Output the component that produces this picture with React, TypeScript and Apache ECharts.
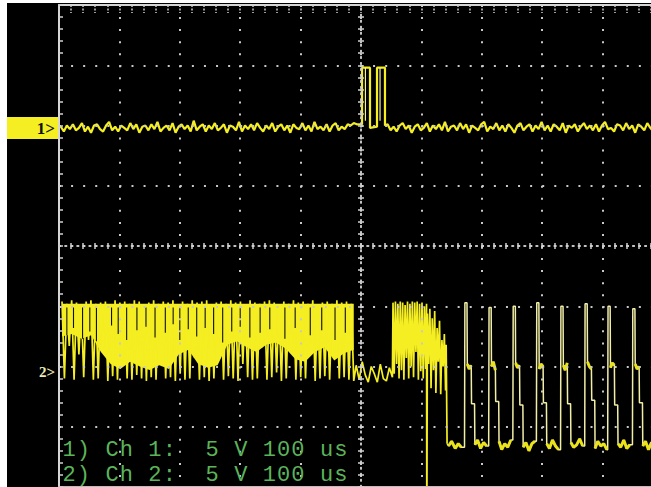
import React, { useEffect, useRef } from "react";
import * as echarts from "echarts";

// ---- scope settings: 100 us/div, 5 V/div ----
const TIME_MIN = -500;
const TIME_MAX = 500;
const TIME_PER_DIV = 100;
const VOLT_MIN = -20;
const VOLT_MAX = 20;
const VOLT_PER_DIV = 5;

const CH1_OFFSET = 9.8; // ground position of channel 1 (V on screen)
const CH2_OFFSET = -10.8; // ground position of channel 2

const legendLines = ["1) Ch 1:  5 V 100 us", "2) Ch 2:  5 V 100 us"];

// ---- channel 1 (volts relative to its ground) ----
const ch1NoiseAStart = -497;
const ch1NoiseBStart = 44;
const ch1SampleStep = 5;
const ch1NoiseA = [
  0.1, -0.3, 0.2, -0.1, 0.3, -0.2, 0.0, 0.4, -0.3, 0.1,
  -0.4, 0.2, 0.3, -0.1, -0.3, 0.2, 0.5, -0.2, 0.1, -0.3,
  0.2, 0.0, -0.2, 0.4, -0.1, 0.3, -0.4, 0.1, 0.2, -0.2,
  0.3, -0.1, 0.5, -0.3, 0.0, 0.2, -0.2, 0.4, -0.4, 0.1,
  0.3, -0.1, 0.2, -0.3, 0.6, -0.2, 0.1, 0.3, -0.3, 0.2,
  -0.1, 0.4, -0.2, 0.0, 0.3, -0.4, 0.2, 0.1, -0.2, 0.5,
  -0.3, 0.2, -0.1, 0.3, -0.2, 0.4, 0.0, -0.3, 0.2, -0.1,
  0.4, -0.3, 0.1, 0.3, -0.2, 0.2, -0.4, 0.3, 0.0, -0.1,
  0.4, -0.2, 0.2, -0.3, 0.5, -0.1, 0.1, -0.2, 0.3, -0.3,
  0.2, 0.4, -0.2, 0.1, -0.1, 0.3, 0.2, 0.4, 0.3,
];
const ch1Pulse: [number, number][] = [
  [-6, 0.3], [1.7, 0.3], [1.7, 5.0], [14.9, 5.0], [14.9, 0.0],
  [26.5, 0.1], [26.5, 5.0], [39.7, 5.0], [39.7, 0.2],
];
const ch1PulseGhost: [number, number | string][] = [
  [7.3, 0.6], [7.3, 5.0], [20, "-"], [31.5, 5.0], [31.5, 0.6],
];
const ch1NoiseB = [
  0.3, -0.2, 0.1, -0.3, 0.2, 0.4, -0.1, 0.2, -0.4, 0.1,
  0.3, -0.2, 0.0, 0.4, -0.3, 0.2, -0.1, 0.3, -0.2, 0.5,
  -0.3, 0.1, 0.2, -0.2, 0.4, -0.1, 0.3, -0.4, 0.2, 0.0,
  -0.2, 0.3, 0.5, -0.3, 0.1, -0.1, 0.4, -0.2, 0.2, -0.3,
  0.3, 0.0, -0.4, 0.2, 0.4, -0.2, 0.1, 0.3, -0.3, 0.2,
  -0.1, 0.5, -0.2, 0.2, -0.3, 0.3, 0.1, -0.2, 0.4, -0.4,
  0.2, 0.0, 0.3, -0.3, 0.1, 0.4, -0.1, 0.2, -0.2, 0.3,
  -0.3, 0.2, 0.5, -0.1, 0.0, -0.3, 0.3, 0.2, -0.2, 0.4,
  -0.1, 0.2, -0.4, 0.3, 0.1, -0.2, 0.4, 0.0, -0.3, 0.2,
  0.3, -0.2,
];

// ---- channel 2 (volts relative to its ground) ----
const burstAStart = -495;
const burstAEnd = -12;
const burstATop = [
  6.2, 6.0, 6.3, 6.1, 5.9, 6.2, 6.3, 6.0, 6.1, 6.2,
  5.8, 6.3, 6.1, 6.2, 6.0, 6.3, 6.2, 5.9, 6.1, 6.3,
  6.0, 6.2, 6.1, 6.3, 5.9, 6.2, 6.0, 6.3, 6.1, 6.2,
  6.3, 5.8, 6.1, 6.2, 6.0, 6.3, 6.1, 6.2, 5.9, 6.3,
  6.1, 6.0, 6.2, 6.3, 6.1, 5.9, 6.2, 6.0, 6.3, 6.1,
  6.2, 6.0, 6.3, 5.9, 6.1, 6.2, 6.0, 6.3, 6.1, 6.2,
  6.0,
];
const burstABottom = [
  -0.2, 2.5, -0.3, 1.8, -0.1, 3.0, -0.3, -0.2, 2.2, -0.4,
  0.0, -0.3, 1.2, -0.2, -0.3, 0.1, -0.2, -0.4, -0.1, -0.3,
  2.6, -0.2, -0.1, -0.4, 0.2, -0.3, -0.2, 1.5, -0.3, -0.1,
  -0.4, -0.2, 2.8, -0.3, 0.0, -0.2, -0.4, 1.0, -0.1, -0.3,
  -0.2, 2.4, -0.3, -0.1, 0.3, -0.4, -0.2, 1.9, -0.3, -0.1,
  -0.2, 2.7, -0.4, -0.2, 0.0, -0.3, 1.4, -0.2, -0.1, -0.3,
  -0.4,
];
// dense (persistence) part of the burst: top level and lower edge
const burstBandTop = 6.0;
const burstBandLower = [
  3.3, 3.5, 3.1, 3.4, 2.0, 1.0, 0.6, 1.2, 0.8, 0.5,
  0.9, 0.6, 1.8, 2.2, 1.0, 0.7, 0.9, 2.6, 2.9, 2.4,
  2.0, 2.6, 2.8, 2.3, 1.4, 1.2, 2.0, 2.4, 1.3, 1.9,
  2.2,
];
// short dark gaps in the dense part (time, lowest level of the gap)
const burstGapTimes = [
  -487, -476, -461, -449, -438, -413, -402, -388, -371, -356, -341, -324,
  -311, -300, -286, -272, -258, -244, -229, -214, -200, -184, -167, -151,
  -126, -109, -84, -65, -43, -26,
];
const burstGapLower = [
  3.4, 4.0, 3.1, 3.7, 2.9, 4.2, 3.5, 3.0, 3.8, 4.1, 3.2, 3.6,
  4.3, 3.0, 3.9, 3.3, 4.0, 3.5, 2.8, 3.7, 4.1, 3.2, 3.6, 3.9,
  3.1, 4.0, 3.4, 3.8, 3.0, 3.6,
];
const burstBStart = -8;
const burstBLow = [0.9, -0.3, 1.2, 0.1, -0.5, 0.8, 0.2, -0.5, 1.0, -0.2, -0.4, 0.7, -0.1];
const burstC: [number, number][] = [
  [53, 6.1], [55, 0.2], [57, 6.2], [59, 1.0], [61, 6.0], [63, -0.2], [65, 6.2], [67, 0.5],
  [69, 6.1], [71, -0.3], [73, 5.9], [75, 1.5], [77, 6.2], [79, -0.2], [81, 6.0], [83, 0.8],
  [85, 6.2], [87, -0.1], [89, 6.1], [91, 2.0], [93, 6.2], [95, -0.3], [97, 6.0], [99, 0.4],
  [101, 6.1], [103, -0.2], [105, 5.8], [107, 0.6], [108.5, 6.0], [109, -13], [110, 5.2],
  [112, 1.0], [114, 5.6], [116, -1.0], [118, 4.8], [120, 0.5], [122, 5.4], [124, -1.4],
  [126, 4.0], [128, 1.2], [130, 4.6], [132, -1.5], [134, 3.0], [136, 0.8], [138, 3.5],
  [140, -1.2], [141, 2.6], [142.5, -5.6],
];
const preLow: [number, number][] = [[145, -5.8], [150, -5.4], [156, -6.0], [161, -5.6], [166, -5.9]];
const spikeTimes = [172, 212, 252, 291, 331, 371, 409, 450, 490];
const spikeTop = [6.1, 5.7, 5.8, 6.1, 5.8, 6.0, 5.8, 5.6, 6.0];
const plateau = [
  [1.0, 0.6, 0.9], [0.8, 1.2, 0.5], [1.1, 0.7, 0.9], [0.6, 1.0, 0.8], [0.9, 0.5, 1.1],
  [1.2, 0.8, 0.6], [0.7, 1.1, 0.9], [1.0, 0.6, 0.8], [0.9, 1.0, 0.7],
];
const stepLevel = [-2.3, -2.1, -2.4, -2.2, -2.3, -2.0, -2.4, -2.2, -2.3];
const lowNoise = [
  [-5.7, -5.3, -6.0, -5.5, -5.8], [-5.4, -6.1, -5.6, -5.9, -5.3], [-5.9, -5.5, -6.2, -5.6, -5.4],
  [-5.6, -6.0, -5.3, -5.8, -6.1], [-5.5, -5.9, -5.7, -5.2, -5.8], [-6.0, -5.4, -5.8, -5.6, -6.1],
  [-5.6, -5.9, -5.3, -6.0, -5.7], [-5.8, -5.4, -6.1, -5.5, -5.9], [-5.5, -5.8, -5.6, -6.0, -5.4],
];
// time offsets (us) of each part of one period, relative to the spike
const riseOffset = -0.6;
const topEndOffset = 3.5;
const plateauOffsets = [4, 7, 10.5];
const stepOffsets = [11, 16];
const lowOffsets = [16.5, 21, 26, 31, 36];

const YELLOW = "#f4ee22";
const CREAM = "#f1eea6";
const GRID = "#c8c8c8";
const GREEN = "#5bb45a";

function buildData() {
  const ch1: [number, number][] = [];
  ch1NoiseA.forEach((v, i) => ch1.push([ch1NoiseAStart + i * ch1SampleStep, CH1_OFFSET + v]));
  ch1Pulse.forEach(([t, v]) => ch1.push([t, CH1_OFFSET + v]));
  ch1NoiseB.forEach((v, i) => ch1.push([ch1NoiseBStart + i * ch1SampleStep, CH1_OFFSET + v]));
  const ghost = ch1PulseGhost.map(([t, v]) => [t, typeof v === "number" ? CH1_OFFSET + v : v]);

  const burst: [number, number][] = [];
  const nA = burstATop.length * 2;
  const stepA = (burstAEnd - burstAStart) / (nA - 1);
  burstATop.forEach((top, i) => {
    burst.push([burstAStart + 2 * i * stepA, CH2_OFFSET + top]);
    burst.push([burstAStart + (2 * i + 1) * stepA, CH2_OFFSET + burstABottom[i]]);
  });
  burstBLow.forEach((v, i) => burst.push([burstBStart + i * 5, CH2_OFFSET + v]));
  burstC.forEach(([t, v]) => burst.push([t, CH2_OFFSET + v]));

  const bandStep = (burstAEnd - burstAStart) / (burstBandLower.length - 1);
  const band: [number, number][] = [
    [burstAStart, CH2_OFFSET + burstBandTop],
    [burstAEnd, CH2_OFFSET + burstBandTop],
  ];
  for (let k = burstBandLower.length - 1; k >= 0; k--) {
    band.push([burstAStart + k * bandStep, CH2_OFFSET + burstBandLower[k]]);
  }

  const gaps: any[] = [];
  burstGapTimes.forEach((t, i) => {
    gaps.push([t, CH2_OFFSET + 5.7]);
    gaps.push([t, CH2_OFFSET + burstGapLower[i]]);
    gaps.push([t + 0.5, "-"]);
  });

  const periodic: [number, number][] = [[142.5, CH2_OFFSET - 5.6]];
  const blobs: any[] = [];
  preLow.forEach(([t, v]) => {
    periodic.push([t, CH2_OFFSET + v]);
    blobs.push([t, CH2_OFFSET + v]);
  });
  blobs.push([spikeTimes[0] - 2, "-"]);
  let prev = preLow[preLow.length - 1][1];
  spikeTimes.forEach((s, c) => {
    periodic.push([s + riseOffset, CH2_OFFSET + prev]);
    periodic.push([s, CH2_OFFSET + spikeTop[c]]);
    periodic.push([s + topEndOffset, CH2_OFFSET + spikeTop[c]]);
    plateau[c].forEach((v, k) => {
      periodic.push([s + plateauOffsets[k], CH2_OFFSET + v]);
      blobs.push([s + plateauOffsets[k], CH2_OFFSET + v]);
    });
    blobs.push([s + stepOffsets[0] - 0.2, "-"]);
    periodic.push([s + stepOffsets[0], CH2_OFFSET + stepLevel[c]]);
    periodic.push([s + stepOffsets[1], CH2_OFFSET + stepLevel[c]]);
    lowNoise[c].forEach((v, k) => {
      periodic.push([s + lowOffsets[k], CH2_OFFSET + v]);
      blobs.push([s + lowOffsets[k], CH2_OFFSET + v]);
    });
    blobs.push([s + 37, "-"]);
    prev = lowNoise[c][lowNoise[c].length - 1];
  });
  return { ch1, ghost, burst, band, gaps, periodic, blobs };
}

const baseX = {
  type: "value",
  min: TIME_MIN,
  max: TIME_MAX,
  interval: TIME_PER_DIV,
  axisLabel: { show: false },
  z: 10,
};
const baseY = {
  type: "value",
  min: VOLT_MIN,
  max: VOLT_MAX,
  interval: VOLT_PER_DIV,
  axisLabel: { show: false },
  z: 10,
};

export default function App() {
  const ref = useRef<HTMLDivElement>(null);
  useEffect(() => {
    if (!ref.current) return;
    const chart = echarts.init(ref.current, undefined, { renderer: "svg" });
    const d = buildData();
    const tickStyle = { color: "#d0d0d0", width: 1.5 };
    const centerLine = { color: "#d0d0d0", width: 1.5, type: [1.5, 4.54] };
    const line = (name: string, data: any[], color: string, width: number) => ({
      type: "line",
      name,
      data,
      showSymbol: false,
      symbol: "none",
      clip: true,
      connectNulls: false,
      lineStyle: { color, width },
    });
    chart.setOption({
      animation: false,
      backgroundColor: "transparent",
      grid: { left: 59, top: 5, width: 604, height: 482, show: false, outerBoundsMode: "none", containLabel: false },
      xAxis: [
        {
          ...baseX,
          position: "top",
          axisLine: { show: true, onZero: false, lineStyle: { color: "#d6d6d6", width: 2 } },
          axisTick: { show: true, inside: true, length: 8, lineStyle: { ...tickStyle, type: [2, 1.5] } },
          minorTick: { show: true, splitNumber: 5, length: 8, lineStyle: { ...tickStyle, type: [2, 1.5] } },
          splitLine: { show: true, lineStyle: { color: GRID, width: 2, type: [2, 10.05] } },
        },
        {
          ...baseX,
          position: "bottom",
          axisLine: { show: true, onZero: true, onZeroAxisIndex: 0, lineStyle: centerLine },
          axisTick: { show: true, inside: true, length: 3, lineStyle: tickStyle },
          minorTick: { show: true, splitNumber: 5, length: 3, lineStyle: tickStyle },
          splitLine: { show: false },
        },
        {
          ...baseX,
          position: "bottom",
          axisLine: { show: true, onZero: true, onZeroAxisIndex: 0, lineStyle: centerLine },
          axisTick: { show: true, inside: false, length: 3, lineStyle: tickStyle },
          minorTick: { show: true, splitNumber: 5, length: 3, lineStyle: tickStyle },
          splitLine: { show: false },
        },
        {
          ...baseX,
          position: "bottom",
          axisLine: { show: true, onZero: false, lineStyle: { color: "#bdbdbd", width: 2 } },
          axisTick: { show: false },
          splitLine: { show: false },
        },
      ],
      yAxis: [
        {
          ...baseY,
          position: "left",
          axisLine: { show: true, onZero: false, lineStyle: { color: "#d6d6d6", width: 2 } },
          axisTick: { show: true, inside: true, length: 4, lineStyle: tickStyle },
          minorTick: { show: true, splitNumber: 5, length: 4, lineStyle: tickStyle },
          splitLine: { show: true, lineStyle: { color: GRID, width: 2, type: [2, 10.08] } },
        },
        {
          ...baseY,
          position: "left",
          axisLine: { show: true, onZero: true, onZeroAxisIndex: 0, lineStyle: centerLine },
          axisTick: { show: true, inside: true, length: 3, lineStyle: tickStyle },
          minorTick: { show: true, splitNumber: 5, length: 3, lineStyle: tickStyle },
          splitLine: { show: false },
        },
        {
          ...baseY,
          position: "left",
          axisLine: { show: true, onZero: true, onZeroAxisIndex: 0, lineStyle: centerLine },
          axisTick: { show: true, inside: false, length: 3, lineStyle: tickStyle },
          minorTick: { show: true, splitNumber: 5, length: 3, lineStyle: tickStyle },
          splitLine: { show: false },
        },
      ],
      series: [
        {
          type: "custom",
          name: "ch2 band",
          coordinateSystem: "cartesian2d",
          clip: true,
          silent: true,
          data: [[burstAStart, CH2_OFFSET]],
          renderItem: (params: any, api: any) => {
            if (params.dataIndex !== 0) return null;
            const pts = d.band.map((p) => api.coord(p));
            return { type: "polygon", shape: { points: pts }, style: { fill: YELLOW } };
          },
        },
        line("ch2 burst", d.burst, YELLOW, 1.7),
        line("ch2 gaps", d.gaps, "#111", 1.1),
        line("ch2 periodic", d.periodic, CREAM, 1.5),
        line("ch2 blobs", d.blobs, "#e9e21c", 3),
        line("ch1", d.ch1, YELLOW, 2.2),
        line("ch1 ghost", d.ghost, "#f6f29a", 1.2),
      ],
    });

    const y1 = chart.convertToPixel({ yAxisIndex: 0 }, CH1_OFFSET) as number;
    const y2 = chart.convertToPixel({ yAxisIndex: 0 }, CH2_OFFSET) as number;
    const pitch = 14.3;
    const legendY = [450.5, 475.5];
    const legendGraphics: any[] = [];
    legendLines.forEach((txt, li) => {
      txt.split("").forEach((ch, ci) => {
        if (ch === " ") return;
        legendGraphics.push({
          type: "text",
          x: 62 + ci * pitch + pitch / 2,
          y: legendY[li],
          z: 20,
          style: {
            text: ch,
            fill: GREEN,
            font: '22px "Liberation Mono"',
            align: "center",
            verticalAlign: "middle",
            textAlign: "center",
            textVerticalAlign: "middle",
          },
        });
      });
    });
    chart.setOption({
      graphic: [
        {
          type: "rect",
          z: 20,
          shape: { x: 7, y: y1 - 11, width: 51, height: 22 },
          style: { fill: YELLOW },
        },
        {
          type: "text",
          x: 55,
          y: y1 + 1,
          z: 21,
          style: {
            text: "1>",
            fill: "#111",
            font: 'bold 17px "Liberation Serif"',
            align: "right",
            verticalAlign: "middle",
            textAlign: "right",
            textVerticalAlign: "middle",
          },
        },
        {
          type: "text",
          x: 55,
          y: y2 - 4,
          z: 21,
          style: {
            text: "2>",
            fill: "#ecebb8",
            font: 'bold 15px "Liberation Serif"',
            align: "right",
            verticalAlign: "middle",
            textAlign: "right",
            textVerticalAlign: "middle",
          },
        },
        ...legendGraphics,
      ],
    });
    return () => chart.dispose();
  }, []);

  return (
    <div style={{ position: "fixed", left: 0, top: 0, width: 651, height: 487, background: "#fff", overflow: "hidden" }}>
      <div style={{ position: "absolute", left: 7, top: 3, width: 644, height: 484, background: "#000" }} />
      <div ref={ref} style={{ position: "absolute", left: 0, top: 0, width: 651, height: 487 }} />
    </div>
  );
}
